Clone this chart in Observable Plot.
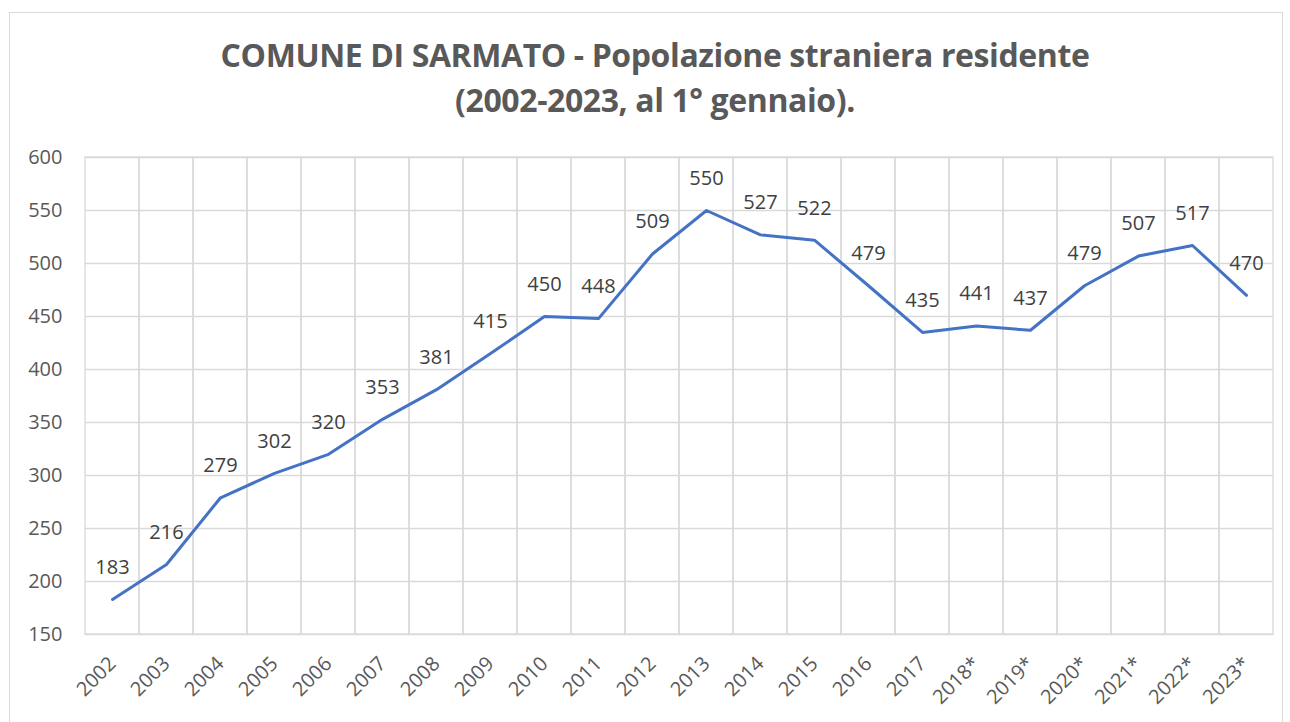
<!DOCTYPE html>
<html>
<head>
<meta charset="utf-8">
<script src="https://cdn.jsdelivr.net/npm/d3@7"></script>
<script src="https://cdn.jsdelivr.net/npm/@observablehq/plot@0.6"></script>
<style>
  html, body { margin: 0; padding: 0; background: #fff; width: 1290px; height: 722px; overflow: hidden; }
  #frame { position: absolute; left: 9px; top: 12px; width: 1274px; height: 720px; border: 1px solid #d9d9d9; box-sizing: border-box; }
  #title { position: absolute; left: 0; top: 32px; width: 1310px; text-align: center; font-family: "Open Sans", sans-serif; font-weight: 700; font-size: 32px; line-height: 45px; color: #595959; letter-spacing: -0.4px; }
  #chart { position: absolute; left: 0; top: 130px; }
</style>
</head>
<body>
<div id="frame"></div>
<div id="title">COMUNE DI SARMATO - Popolazione straniera residente<br>(2002-2023, al 1° gennaio).</div>
<div id="chart"></div>
<script>
const years = ["2002","2003","2004","2005","2006","2007","2008","2009","2010","2011","2012","2013","2014","2015","2016","2017","2018*","2019*","2020*","2021*","2022*","2023*"];
const values = [183,216,279,302,320,353,381,415,450,448,509,550,527,522,479,435,441,437,479,507,517,470];
const yTicks = [150,200,250,300,350,400,450,500,550,600];

const data = years.map((y, i) => ({year: y, value: values[i]}));
const font = "Open Sans, sans-serif";

const chart = Plot.plot({
  width: 1290,
  height: 592,
  marginTop: 27,
  marginBottom: 88,
  marginLeft: 85,
  marginRight: 17,
  style: { fontFamily: font, fontSize: "20px", color: "#595959", background: "transparent" },
  x: { type: "band", domain: years, padding: 0, label: null, tickSize: 0, tickPadding: 26, tickRotate: -45 },
  y: { domain: [150, 600], ticks: yTicks, label: null, tickSize: 0, tickPadding: 23, grid: false },
  marks: [
    Plot.ruleY(yTicks, { stroke: "#d9d9d9", strokeWidth: 1.3, strokeOpacity: 1 }),
    Plot.cell(years, { x: d => d, fill: "none", stroke: "#d9d9d9", strokeWidth: 1.3 }),
    Plot.line(data, { x: "year", y: "value", stroke: "#4472C4", strokeWidth: 3, strokeLinejoin: "round", strokeLinecap: "round" }),
    Plot.text(data, { x: "year", y: "value", text: d => String(d.value), dy: -32, fill: "#404040", fontSize: 20, fontFamily: font })
  ]
});
document.getElementById("chart").appendChild(chart);
</script>
</body>
</html>
